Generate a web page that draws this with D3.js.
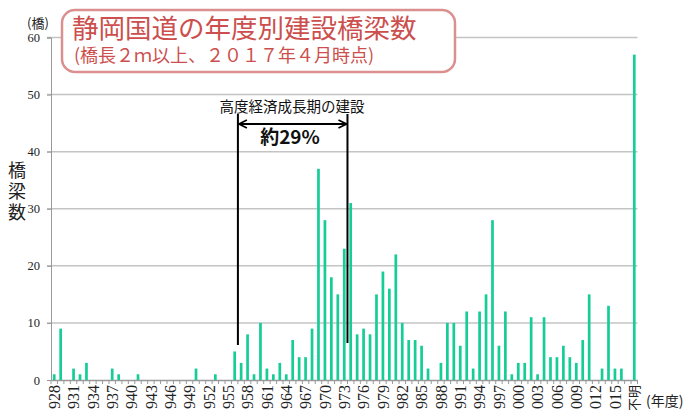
<!DOCTYPE html>
<html lang="ja">
<head>
<meta charset="utf-8">
<title>静岡国道の年度別建設橋梁数</title>
<script src="https://cdn.jsdelivr.net/npm/d3@7"></script>
<style>
body { margin: 0; background: #ffffff; }
svg { display: block; }
</style>
</head>
<body>
<script>
var width = 685;
var height = 410;

// categories: fiscal years 1928-2017 plus "不明" (unknown)
var years = [];
for (var y = 1928; y <= 2017; y++) years.push(String(y));
var categories = years.concat(["不明"]);

// bridge counts per category
var counts = [
  1, 9, 0, 2, 1, 3, 0, 0, 0, 2,     // 1928-1937
  1, 0, 0, 1, 0, 0, 0, 0, 0, 0,     // 1938-1947
  0, 0, 2, 0, 0, 1, 0, 0, 5, 3,     // 1948-1957
  8, 1, 10, 2, 1, 3, 1, 7, 4, 4,    // 1958-1967
  9, 37, 28, 18, 15, 23, 31, 8, 9, 8, // 1968-1977
  15, 19, 16, 22, 10, 7, 7, 6, 2, 0,  // 1978-1987
  3, 10, 10, 6, 12, 2, 12, 15, 28, 6, // 1988-1997
  12, 1, 3, 3, 11, 1, 11, 4, 4, 6,    // 1998-2007
  4, 3, 7, 15, 0, 2, 13, 2, 2, 0,     // 2008-2017
  57                                  // 不明
];

var yTicks = [0, 10, 20, 30, 40, 50, 60];
var labelEvery = 3;                     // every third year gets a label
var periodStart = "1956", periodEnd = "1973";   // high growth period bracket
var yTitle = ["橋", "梁", "数"];

var svg = d3.select("body").append("svg")
    .attr("width", width).attr("height", height);

var x = d3.scaleBand().domain(categories).range([51, 637.5]).paddingInner(0.58).paddingOuter(0.29);
var yScale = d3.scaleLinear().domain([0, 60]).range([380, 37.5]);

// gridlines
svg.append("g").selectAll("line").data(yTicks.slice(1)).join("line")
    .attr("x1", 47).attr("x2", 637.5)
    .attr("y1", function(d) { return yScale(d); })
    .attr("y2", function(d) { return yScale(d); })
    .attr("stroke", "#c4c4c4").attr("stroke-width", 1.5);

// y axis
var yAxis = svg.append("g").attr("transform", "translate(51,0)")
    .call(d3.axisLeft(yScale).tickValues(yTicks).tickSize(4).tickPadding(7));
yAxis.select(".domain").attr("stroke", "#999");
yAxis.selectAll(".tick line").attr("stroke", "#999");
yAxis.selectAll("text").attr("font-family", "Liberation Serif").attr("font-size", 12.5).attr("fill", "#222");

// x axis
var xAxis = svg.append("g").attr("transform", "translate(0,380)")
    .call(d3.axisBottom(x).tickSize(0).tickFormat(function(d, i) {
        return (i % labelEvery === 0 || d === "不明") ? d : "";
    }));
xAxis.select(".domain").attr("stroke", "#999").attr("stroke-width", 1.5);
xAxis.selectAll("text")
    .attr("transform", "rotate(-90)")
    .attr("x", -5).attr("y", 0).attr("dy", "0.35em")
    .attr("text-anchor", "end")
    .attr("font-family", function(d) { return d === "不明" ? "Noto Sans CJK JP" : "Liberation Serif"; })
    .attr("font-size", function(d) { return d === "不明" ? 13 : 16; })
    .attr("fill", "#222");
// small ticks on category boundaries
svg.append("g").selectAll("line").data(categories).join("line")
    .attr("x1", function(d) { return x(d) - x.step() * 0.29; })
    .attr("x2", function(d) { return x(d) - x.step() * 0.29; })
    .attr("y1", 380).attr("y2", 384)
    .attr("stroke", "#999");
svg.append("line").attr("x1", 637.5).attr("x2", 637.5).attr("y1", 380).attr("y2", 384).attr("stroke", "#999");

// bars
svg.append("g").selectAll("rect").data(counts).join("rect")
    .attr("x", function(d, i) { return x(categories[i]); })
    .attr("width", x.bandwidth())
    .attr("y", function(d) { return yScale(d); })
    .attr("height", function(d) { return 380 - yScale(d); })
    .attr("fill", "#16cd98");

// axis titles
svg.append("text").attr("x", 38).attr("y", 28).attr("text-anchor", "middle")
    .attr("font-family", "Noto Sans CJK JP").attr("font-size", 13).attr("fill", "#222").text("(橋)");
svg.append("g").selectAll("text").data(yTitle).join("text")
    .attr("x", 17).attr("y", function(d, i) { return 177 + i * 21; })
    .attr("text-anchor", "middle")
    .attr("font-family", "Noto Sans CJK JP").attr("font-size", 18).attr("fill", "#222")
    .text(function(d) { return d; });
svg.append("text").attr("x", 646).attr("y", 406)
    .attr("font-family", "Noto Sans CJK JP").attr("font-size", 14).attr("fill", "#222").text("(年度)");

// high growth period bracket
var xl = x(periodStart) + x.bandwidth() + x.step() * 0.29;
var xr = x(periodEnd) + x.bandwidth() + x.step() * 0.29;
var defs = svg.append("defs");
defs.append("marker").attr("id", "head").attr("viewBox", "0 0 10 10")
    .attr("refX", 9).attr("refY", 5).attr("markerWidth", 5).attr("markerHeight", 5)
    .attr("orient", "auto-start-reverse")
    .append("path").attr("d", "M1,1 L9,5 L1,9").attr("fill", "none").attr("stroke", "#000").attr("stroke-width", 1.6);
svg.append("line").attr("x1", xl).attr("x2", xl).attr("y1", 114).attr("y2", 345).attr("stroke", "#000").attr("stroke-width", 2);
svg.append("line").attr("x1", xr).attr("x2", xr).attr("y1", 114).attr("y2", 343).attr("stroke", "#000").attr("stroke-width", 2);
svg.append("line").attr("x1", xl + 1).attr("x2", xr - 1).attr("y1", 124).attr("y2", 124)
    .attr("stroke", "#000").attr("stroke-width", 2)
    .attr("marker-start", "url(#head)").attr("marker-end", "url(#head)");
svg.append("text").attr("x", 292).attr("y", 112).attr("text-anchor", "middle")
    .attr("font-family", "Noto Sans CJK JP").attr("font-size", 14.5).attr("fill", "#111").text("高度経済成長期の建設");
svg.append("text").attr("x", 290).attr("y", 144).attr("text-anchor", "middle")
    .attr("font-family", "Noto Sans CJK JP").attr("font-weight", "bold").attr("font-size", 19).attr("fill", "#111").text("約29%");

// title box
svg.append("rect").attr("x", 62).attr("y", 10).attr("width", 393).attr("height", 62)
    .attr("rx", 13).attr("fill", "#fff").attr("stroke", "#dc8f8f").attr("stroke-width", 2.5);
svg.append("text").attr("x", 72).attr("y", 38)
    .attr("font-family", "Noto Sans CJK JP").attr("font-size", 26.5).attr("fill", "#cc4f4d").text("静岡国道の年度別建設橋梁数");
svg.append("text").attr("x", 74).attr("y", 62)
    .attr("font-family", "Noto Sans CJK JP").attr("font-size", 18).attr("fill", "#cc4f4d").text("(橋長２ｍ以上、２０１７年４月時点)");
</script>
</body>
</html>
